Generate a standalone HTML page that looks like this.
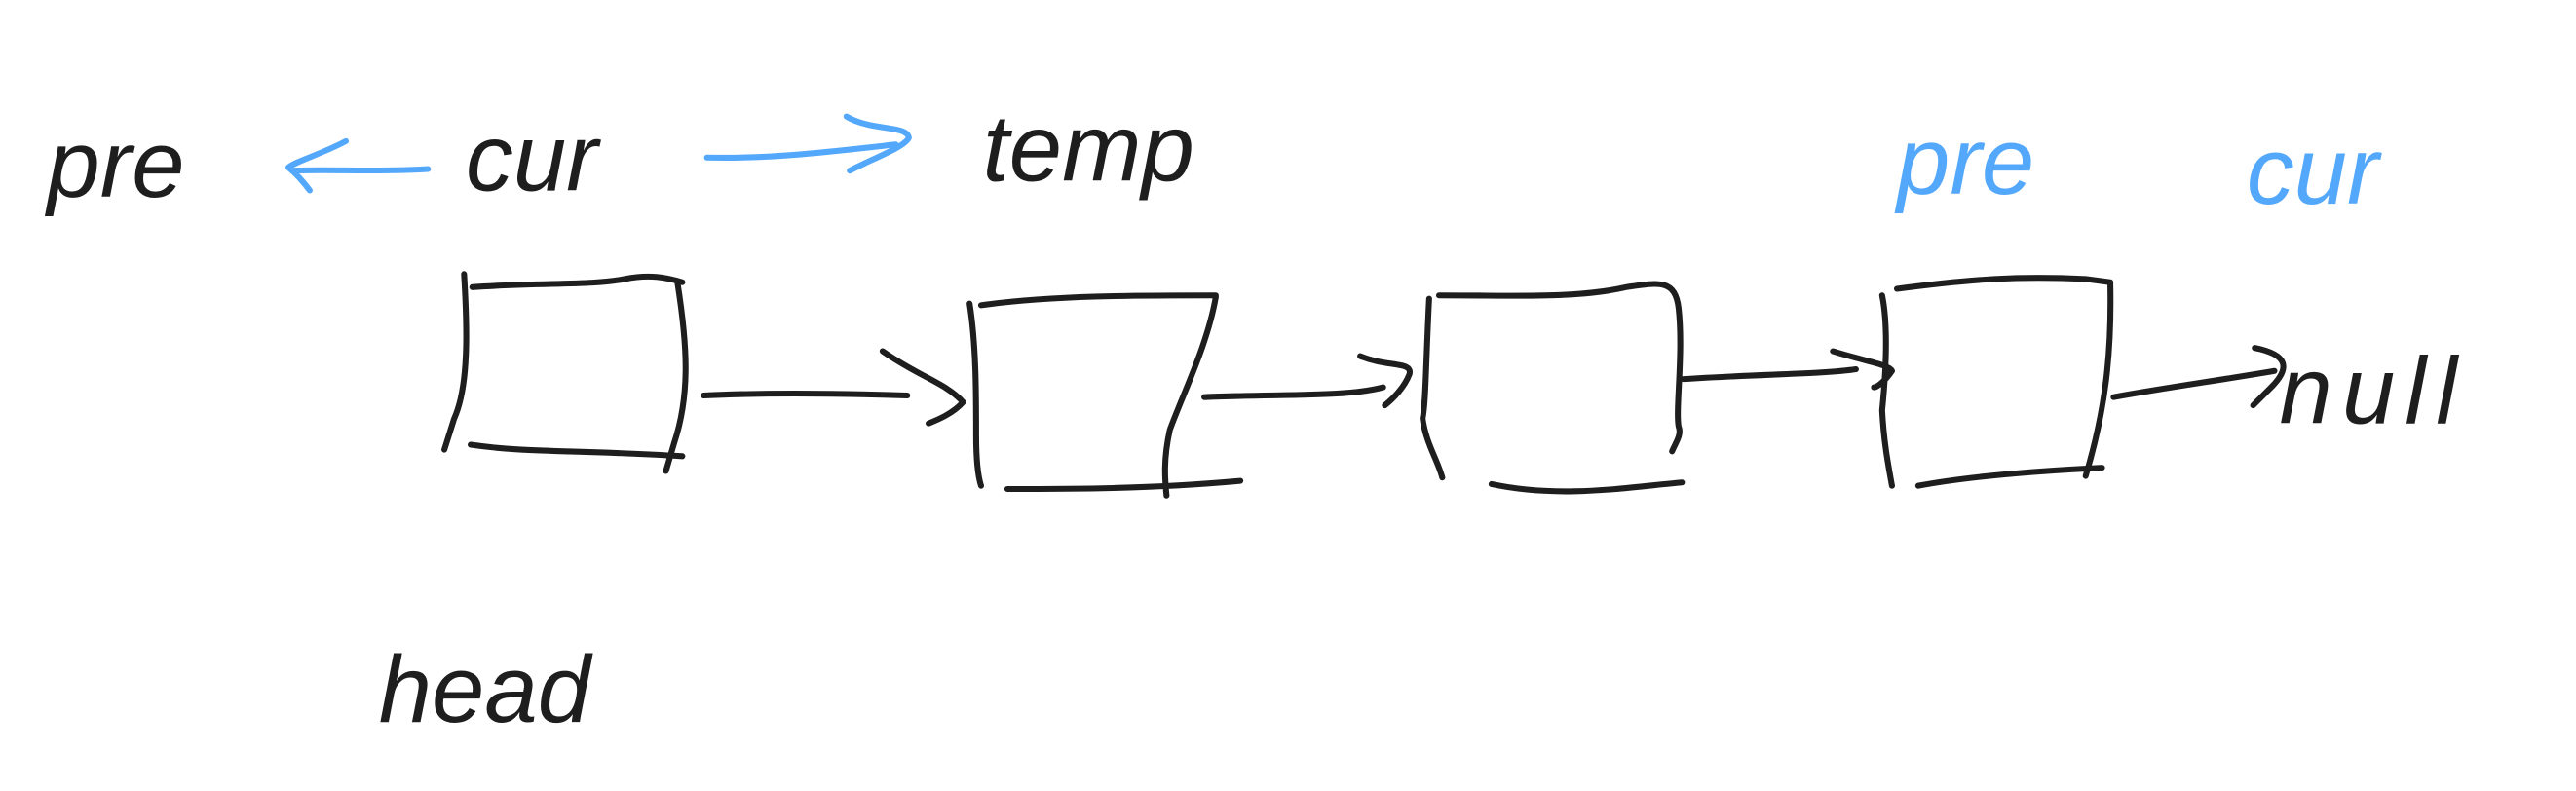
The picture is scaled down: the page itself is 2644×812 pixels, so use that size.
<!DOCTYPE html>
<html>
<head>
<meta charset="utf-8">
<style>
html,body{margin:0;padding:0;background:#fff;}
svg{display:block;}
text{font-family:"Liberation Sans","DejaVu Sans",sans-serif;font-style:italic;}
</style>
</head>
<body>
<svg width="2644" height="812" viewBox="0 0 1568 482" xmlns="http://www.w3.org/2000/svg">
<rect width="1568" height="482" fill="#fff"/>
<g fill="none" stroke="#1e1e1e" stroke-width="3.6" stroke-linecap="round" stroke-linejoin="round">
  <path d="M282 167 C284 200 285 235 276 255 L270 274"/>
  <path d="M287 175 C330 172 360 174 380 170 C395 167 405 169 415 172"/>
  <path d="M412 172 C418 210 420 240 410 270 L405 287"/>
  <path d="M286 271 C320 276 350 274 415 278"/>
  <path d="M428 241 C470 239 520 240 552 241"/>
  <path d="M537 214 C560 230 575 233 586 245 C580 252 570 256 565 258"/>
  <path d="M590 185 C594 210 594 240 594 265 C594 280 595 290 597 296"/>
  <path d="M597 186 C640 180 690 180 740 180"/>
  <path d="M740 181 C735 210 720 240 712 262 C708 280 709 292 710 302"/>
  <path d="M613 298 C650 298 700 298 755 293"/>
  <path d="M733 242 C780 240 820 242 842 236"/>
  <path d="M828 217 C845 224 860 220 858 228 C855 236 848 243 843 247"/>
  <path d="M870 182 C868 220 868 245 866 255 C868 270 875 280 878 291"/>
  <path d="M876 180 C920 180 960 182 990 175 C1010 172 1020 170 1022 188 C1025 215 1020 250 1022 260 C1024 265 1020 270 1018 275"/>
  <path d="M908 295 C950 304 990 297 1024 294"/>
  <path d="M1025 231 C1070 228 1110 228 1130 225"/>
  <path d="M1116 214 C1135 220 1150 222 1152 226 C1148 232 1143 236 1141 236"/>
  <path d="M1146 180 C1150 200 1148 230 1146 250 C1147 270 1150 285 1152 296"/>
  <path d="M1155 176 C1200 170 1230 168 1270 170 L1285 172 C1286 215 1282 250 1270 290"/>
  <path d="M1168 296 C1200 290 1240 287 1280 285"/>
  <path d="M1287 242 C1320 236 1350 232 1385 226"/>
  <path d="M1373 212 C1393 216 1395 224 1383 236 L1372 247"/>
</g>
<g fill="none" stroke="#54a8fb" stroke-width="3.6" stroke-linecap="round" stroke-linejoin="round">
  <path d="M260 103 C230 105 200 103 178 104"/>
  <path d="M210 86 C195 94 180 98 175 102 C180 106 185 112 188 116"/>
  <path d="M430 96 C470 97 510 92 545 88"/>
  <path d="M515 71 C530 80 552 76 553 84 C550 90 530 97 517 104"/>
</g>
<g fill="#1e1e1e" font-size="58">
  <text x="28" y="120">pre</text>
  <text x="283" y="116">cur</text>
  <text x="598" y="110">temp</text>
  <text x="1388" y="258" letter-spacing="6">null</text>
  <text x="230" y="440">head</text>
</g>
<g fill="#54a8fb" font-size="58">
  <text x="1155" y="118">pre</text>
  <text x="1368" y="124">cur</text>
</g>
</svg>
</body>
</html>
